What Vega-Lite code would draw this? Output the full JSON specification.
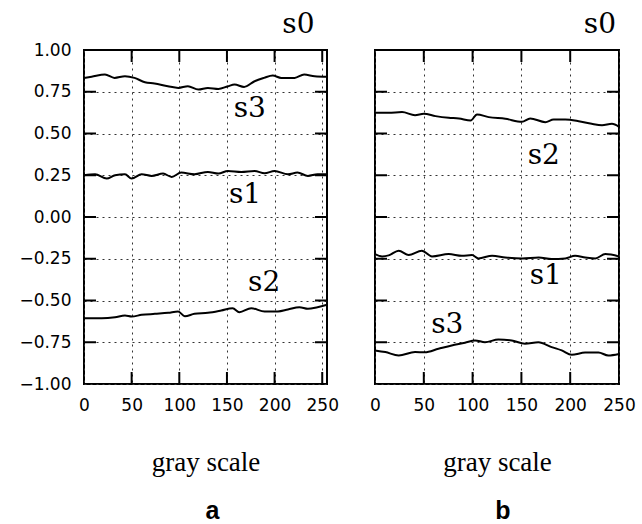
{
  "$schema": "https://vega.github.io/schema/vega-lite/v6.json",
  "background": "white",
  "padding": {"left": 17, "top": 9, "right": 5, "bottom": 5},
  "spacing": 48,
  "bounds": "flush",
  "config": {
    "view": {"stroke": "black", "strokeWidth": 2},
    "axis": {
      "domain": false,
      "grid": true,
      "gridDash": [2, 4],
      "gridColor": "#333",
      "gridWidth": 1,
      "ticks": false,
      "labelFont": "DejaVu Sans",
      "labelFontSize": 17,
      "labelColor": "black",
      "labelFlush": false,
      "labelOverlap": false,
      "titleColor": "black"
    }
  },
  "datasets": {
    "lines": [
      {"panel": "a", "series": "s0", "x": 0, "y": 1},
      {"panel": "a", "series": "s0", "x": 255, "y": 1},
      {"panel": "a", "series": "s3", "x": 0, "y": 0.833},
      {"panel": "a", "series": "s3", "x": 8, "y": 0.84},
      {"panel": "a", "series": "s3", "x": 22, "y": 0.853},
      {"panel": "a", "series": "s3", "x": 32, "y": 0.833},
      {"panel": "a", "series": "s3", "x": 43, "y": 0.843},
      {"panel": "a", "series": "s3", "x": 53, "y": 0.833},
      {"panel": "a", "series": "s3", "x": 64, "y": 0.807},
      {"panel": "a", "series": "s3", "x": 74, "y": 0.8},
      {"panel": "a", "series": "s3", "x": 88, "y": 0.783},
      {"panel": "a", "series": "s3", "x": 99, "y": 0.773},
      {"panel": "a", "series": "s3", "x": 109, "y": 0.783},
      {"panel": "a", "series": "s3", "x": 120, "y": 0.763},
      {"panel": "a", "series": "s3", "x": 130, "y": 0.773},
      {"panel": "a", "series": "s3", "x": 141, "y": 0.767},
      {"panel": "a", "series": "s3", "x": 151, "y": 0.783},
      {"panel": "a", "series": "s3", "x": 158, "y": 0.793},
      {"panel": "a", "series": "s3", "x": 168, "y": 0.779},
      {"panel": "a", "series": "s3", "x": 179, "y": 0.813},
      {"panel": "a", "series": "s3", "x": 189, "y": 0.833},
      {"panel": "a", "series": "s3", "x": 198, "y": 0.847},
      {"panel": "a", "series": "s3", "x": 207, "y": 0.833},
      {"panel": "a", "series": "s3", "x": 221, "y": 0.833},
      {"panel": "a", "series": "s3", "x": 231, "y": 0.853},
      {"panel": "a", "series": "s3", "x": 242, "y": 0.843},
      {"panel": "a", "series": "s3", "x": 255, "y": 0.84},
      {"panel": "a", "series": "s1", "x": 0, "y": 0.25},
      {"panel": "a", "series": "s1", "x": 11.6, "y": 0.256},
      {"panel": "a", "series": "s1", "x": 23.8, "y": 0.23},
      {"panel": "a", "series": "s1", "x": 32.6, "y": 0.25},
      {"panel": "a", "series": "s1", "x": 43, "y": 0.256},
      {"panel": "a", "series": "s1", "x": 50, "y": 0.23},
      {"panel": "a", "series": "s1", "x": 60.5, "y": 0.256},
      {"panel": "a", "series": "s1", "x": 71, "y": 0.246},
      {"panel": "a", "series": "s1", "x": 83, "y": 0.26},
      {"panel": "a", "series": "s1", "x": 92, "y": 0.24},
      {"panel": "a", "series": "s1", "x": 102, "y": 0.266},
      {"panel": "a", "series": "s1", "x": 116, "y": 0.256},
      {"panel": "a", "series": "s1", "x": 130, "y": 0.27},
      {"panel": "a", "series": "s1", "x": 141, "y": 0.26},
      {"panel": "a", "series": "s1", "x": 151, "y": 0.276},
      {"panel": "a", "series": "s1", "x": 165, "y": 0.27},
      {"panel": "a", "series": "s1", "x": 179, "y": 0.276},
      {"panel": "a", "series": "s1", "x": 189.5, "y": 0.262},
      {"panel": "a", "series": "s1", "x": 200, "y": 0.276},
      {"panel": "a", "series": "s1", "x": 214, "y": 0.256},
      {"panel": "a", "series": "s1", "x": 224, "y": 0.266},
      {"panel": "a", "series": "s1", "x": 235, "y": 0.246},
      {"panel": "a", "series": "s1", "x": 245, "y": 0.256},
      {"panel": "a", "series": "s1", "x": 255, "y": 0.256},
      {"panel": "a", "series": "s2", "x": 0, "y": -0.606},
      {"panel": "a", "series": "s2", "x": 18.6, "y": -0.606},
      {"panel": "a", "series": "s2", "x": 32.6, "y": -0.6},
      {"panel": "a", "series": "s2", "x": 43, "y": -0.59},
      {"panel": "a", "series": "s2", "x": 50, "y": -0.596},
      {"panel": "a", "series": "s2", "x": 60.5, "y": -0.586},
      {"panel": "a", "series": "s2", "x": 74.4, "y": -0.58},
      {"panel": "a", "series": "s2", "x": 88.4, "y": -0.574},
      {"panel": "a", "series": "s2", "x": 98.8, "y": -0.566},
      {"panel": "a", "series": "s2", "x": 105.8, "y": -0.594},
      {"panel": "a", "series": "s2", "x": 116, "y": -0.58},
      {"panel": "a", "series": "s2", "x": 130, "y": -0.574},
      {"panel": "a", "series": "s2", "x": 144, "y": -0.56},
      {"panel": "a", "series": "s2", "x": 156, "y": -0.546},
      {"panel": "a", "series": "s2", "x": 163, "y": -0.57},
      {"panel": "a", "series": "s2", "x": 175.5, "y": -0.546},
      {"panel": "a", "series": "s2", "x": 189.5, "y": -0.566},
      {"panel": "a", "series": "s2", "x": 203.5, "y": -0.566},
      {"panel": "a", "series": "s2", "x": 214, "y": -0.554},
      {"panel": "a", "series": "s2", "x": 226, "y": -0.54},
      {"panel": "a", "series": "s2", "x": 235, "y": -0.55},
      {"panel": "a", "series": "s2", "x": 245, "y": -0.54},
      {"panel": "a", "series": "s2", "x": 255, "y": -0.526},
      {"panel": "b", "series": "s0", "x": 0, "y": 1},
      {"panel": "b", "series": "s0", "x": 250, "y": 1},
      {"panel": "b", "series": "s2", "x": 0, "y": 0.624},
      {"panel": "b", "series": "s2", "x": 14, "y": 0.624},
      {"panel": "b", "series": "s2", "x": 27.7, "y": 0.628},
      {"panel": "b", "series": "s2", "x": 41, "y": 0.61},
      {"panel": "b", "series": "s2", "x": 50, "y": 0.618},
      {"panel": "b", "series": "s2", "x": 62, "y": 0.604},
      {"panel": "b", "series": "s2", "x": 75.5, "y": 0.594},
      {"panel": "b", "series": "s2", "x": 86, "y": 0.59},
      {"panel": "b", "series": "s2", "x": 98, "y": 0.578},
      {"panel": "b", "series": "s2", "x": 104.5, "y": 0.614},
      {"panel": "b", "series": "s2", "x": 116.5, "y": 0.598},
      {"panel": "b", "series": "s2", "x": 133.5, "y": 0.588},
      {"panel": "b", "series": "s2", "x": 150.6, "y": 0.57},
      {"panel": "b", "series": "s2", "x": 159, "y": 0.59},
      {"panel": "b", "series": "s2", "x": 174.5, "y": 0.568},
      {"panel": "b", "series": "s2", "x": 183, "y": 0.584},
      {"panel": "b", "series": "s2", "x": 195, "y": 0.584},
      {"panel": "b", "series": "s2", "x": 208.7, "y": 0.574},
      {"panel": "b", "series": "s2", "x": 222, "y": 0.558},
      {"panel": "b", "series": "s2", "x": 232.6, "y": 0.55},
      {"panel": "b", "series": "s2", "x": 242.8, "y": 0.558},
      {"panel": "b", "series": "s2", "x": 250, "y": 0.54},
      {"panel": "b", "series": "s1", "x": 0, "y": -0.222},
      {"panel": "b", "series": "s1", "x": 7.2, "y": -0.236},
      {"panel": "b", "series": "s1", "x": 14, "y": -0.23},
      {"panel": "b", "series": "s1", "x": 24.3, "y": -0.202},
      {"panel": "b", "series": "s1", "x": 34.5, "y": -0.228},
      {"panel": "b", "series": "s1", "x": 48, "y": -0.202},
      {"panel": "b", "series": "s1", "x": 58.4, "y": -0.236},
      {"panel": "b", "series": "s1", "x": 75.5, "y": -0.222},
      {"panel": "b", "series": "s1", "x": 89, "y": -0.232},
      {"panel": "b", "series": "s1", "x": 99.4, "y": -0.228},
      {"panel": "b", "series": "s1", "x": 106, "y": -0.248},
      {"panel": "b", "series": "s1", "x": 120, "y": -0.232},
      {"panel": "b", "series": "s1", "x": 133.5, "y": -0.242},
      {"panel": "b", "series": "s1", "x": 150.6, "y": -0.248},
      {"panel": "b", "series": "s1", "x": 167.7, "y": -0.242},
      {"panel": "b", "series": "s1", "x": 181, "y": -0.252},
      {"panel": "b", "series": "s1", "x": 195, "y": -0.248},
      {"panel": "b", "series": "s1", "x": 205, "y": -0.232},
      {"panel": "b", "series": "s1", "x": 215.5, "y": -0.242},
      {"panel": "b", "series": "s1", "x": 225.7, "y": -0.248},
      {"panel": "b", "series": "s1", "x": 236, "y": -0.222},
      {"panel": "b", "series": "s1", "x": 250, "y": -0.236},
      {"panel": "b", "series": "s3", "x": 0, "y": -0.799},
      {"panel": "b", "series": "s3", "x": 10.6, "y": -0.809},
      {"panel": "b", "series": "s3", "x": 24.3, "y": -0.829},
      {"panel": "b", "series": "s3", "x": 41, "y": -0.809},
      {"panel": "b", "series": "s3", "x": 51, "y": -0.81},
      {"panel": "b", "series": "s3", "x": 65, "y": -0.789},
      {"panel": "b", "series": "s3", "x": 78.6, "y": -0.769},
      {"panel": "b", "series": "s3", "x": 92.2, "y": -0.753},
      {"panel": "b", "series": "s3", "x": 102.5, "y": -0.739},
      {"panel": "b", "series": "s3", "x": 112.7, "y": -0.75},
      {"panel": "b", "series": "s3", "x": 126.4, "y": -0.733},
      {"panel": "b", "series": "s3", "x": 140, "y": -0.739},
      {"panel": "b", "series": "s3", "x": 153.7, "y": -0.759},
      {"panel": "b", "series": "s3", "x": 167.4, "y": -0.75},
      {"panel": "b", "series": "s3", "x": 181, "y": -0.779},
      {"panel": "b", "series": "s3", "x": 191.3, "y": -0.799},
      {"panel": "b", "series": "s3", "x": 201.6, "y": -0.825},
      {"panel": "b", "series": "s3", "x": 215.3, "y": -0.812},
      {"panel": "b", "series": "s3", "x": 229, "y": -0.812},
      {"panel": "b", "series": "s3", "x": 239, "y": -0.829},
      {"panel": "b", "series": "s3", "x": 250, "y": -0.82}
    ],
    "labels": [
      {"panel": "a", "label": "s0", "x": 225, "y": 1.15},
      {"panel": "a", "label": "s3", "x": 174, "y": 0.648},
      {"panel": "a", "label": "s1", "x": 169, "y": 0.134},
      {"panel": "a", "label": "s2", "x": 189, "y": -0.397},
      {"panel": "b", "label": "s0", "x": 230.5, "y": 1.15},
      {"panel": "b", "label": "s2", "x": 173, "y": 0.367},
      {"panel": "b", "label": "s1", "x": 175, "y": -0.355},
      {"panel": "b", "label": "s3", "x": 74, "y": -0.648}
    ],
    "xticks_a": [{"v": 50}, {"v": 100}, {"v": 150}, {"v": 200}, {"v": 250}],
    "xticks_b": [{"v": 50}, {"v": 100}, {"v": 150}, {"v": 200}],
    "yticks": [{"v": -0.75}, {"v": -0.5}, {"v": -0.25}, {"v": 0}, {"v": 0.25}, {"v": 0.5}, {"v": 0.75}]
  },
  "hconcat": [
    {
      "width": 243,
      "height": 334,
      "title": {"text": "a", "orient": "bottom", "font": "Liberation Sans", "fontSize": 25, "fontWeight": "bold", "color": "black", "offset": 24, "dx": 7},
      "layer": [
        {
          "data": {"name": "lines"},
          "transform": [{"filter": "datum.panel === 'a'"}],
          "mark": {"type": "line", "color": "black", "strokeWidth": 2, "interpolate": "monotone"},
          "encoding": {
            "x": {"field": "x", "type": "quantitative", "scale": {"domain": [0, 255], "nice": false, "zero": false},
                  "axis": {"orient": "bottom", "values": [0, 50, 100, 150, 200, 250], "labelPadding": 13, "title": "gray scale", "titleFont": "Liberation Serif", "titleFontSize": 27, "titleFontWeight": "normal", "titlePadding": 36}},
            "y": {"field": "y", "type": "quantitative", "scale": {"domain": [-1, 1], "nice": false, "zero": false},
                  "axis": {"orient": "left", "values": [-1, -0.75, -0.5, -0.25, 0, 0.25, 0.5, 0.75, 1], "format": ".2f", "labelPadding": 13, "title": null}},
            "detail": {"field": "series"}
          }
        },
        {
          "data": {"name": "xticks_a"},
          "mark": {"type": "tick", "orient": "vertical", "color": "black", "thickness": 2, "size": 12, "yOffset": -6, "opacity": 1},
          "encoding": {"x": {"field": "v", "type": "quantitative"}, "y": {"datum": -1, "type": "quantitative"}}
        },
        {
          "data": {"name": "xticks_a"},
          "mark": {"type": "tick", "orient": "vertical", "color": "black", "thickness": 2, "size": 12, "yOffset": 6, "opacity": 1},
          "encoding": {"x": {"field": "v", "type": "quantitative"}, "y": {"datum": 1, "type": "quantitative"}}
        },
        {
          "data": {"name": "yticks"},
          "mark": {"type": "tick", "orient": "horizontal", "color": "black", "thickness": 2, "size": 12, "xOffset": 6, "opacity": 1},
          "encoding": {"y": {"field": "v", "type": "quantitative"}, "x": {"datum": 0, "type": "quantitative"}}
        },
        {
          "data": {"name": "yticks"},
          "mark": {"type": "tick", "orient": "horizontal", "color": "black", "thickness": 2, "size": 12, "xOffset": -6, "opacity": 1},
          "encoding": {"y": {"field": "v", "type": "quantitative"}, "x": {"datum": 255, "type": "quantitative"}}
        },
        {
          "data": {"name": "labels"},
          "transform": [{"filter": "datum.panel === 'a'"}],
          "mark": {"type": "text", "font": "DejaVu Serif", "fontSize": 28, "color": "black", "baseline": "middle", "align": "center"},
          "encoding": {
            "x": {"field": "x", "type": "quantitative"},
            "y": {"field": "y", "type": "quantitative"},
            "text": {"field": "label"}
          }
        }
      ]
    },
    {
      "width": 244,
      "height": 334,
      "title": {"text": "b", "orient": "bottom", "font": "Liberation Sans", "fontSize": 25, "fontWeight": "bold", "color": "black", "offset": 24, "dx": 6},
      "layer": [
        {
          "data": {"name": "lines"},
          "transform": [{"filter": "datum.panel === 'b'"}],
          "mark": {"type": "line", "color": "black", "strokeWidth": 2, "interpolate": "monotone"},
          "encoding": {
            "x": {"field": "x", "type": "quantitative", "scale": {"domain": [0, 250], "nice": false, "zero": false},
                  "axis": {"orient": "bottom", "values": [0, 50, 100, 150, 200, 250], "labelPadding": 13, "title": "gray scale", "titleFont": "Liberation Serif", "titleFontSize": 27, "titleFontWeight": "normal", "titlePadding": 36}},
            "y": {"field": "y", "type": "quantitative", "scale": {"domain": [-1, 1], "nice": false, "zero": false},
                  "axis": {"orient": "left", "values": [-1, -0.75, -0.5, -0.25, 0, 0.25, 0.5, 0.75, 1], "labels": false, "title": null}},
            "detail": {"field": "series"}
          }
        },
        {
          "data": {"name": "xticks_b"},
          "mark": {"type": "tick", "orient": "vertical", "color": "black", "thickness": 2, "size": 12, "yOffset": -6, "opacity": 1},
          "encoding": {"x": {"field": "v", "type": "quantitative"}, "y": {"datum": -1, "type": "quantitative"}}
        },
        {
          "data": {"name": "xticks_b"},
          "mark": {"type": "tick", "orient": "vertical", "color": "black", "thickness": 2, "size": 12, "yOffset": 6, "opacity": 1},
          "encoding": {"x": {"field": "v", "type": "quantitative"}, "y": {"datum": 1, "type": "quantitative"}}
        },
        {
          "data": {"name": "yticks"},
          "mark": {"type": "tick", "orient": "horizontal", "color": "black", "thickness": 2, "size": 12, "xOffset": 6, "opacity": 1},
          "encoding": {"y": {"field": "v", "type": "quantitative"}, "x": {"datum": 0, "type": "quantitative"}}
        },
        {
          "data": {"name": "yticks"},
          "mark": {"type": "tick", "orient": "horizontal", "color": "black", "thickness": 2, "size": 12, "xOffset": -6, "opacity": 1},
          "encoding": {"y": {"field": "v", "type": "quantitative"}, "x": {"datum": 250, "type": "quantitative"}}
        },
        {
          "data": {"name": "labels"},
          "transform": [{"filter": "datum.panel === 'b'"}],
          "mark": {"type": "text", "font": "DejaVu Serif", "fontSize": 28, "color": "black", "baseline": "middle", "align": "center"},
          "encoding": {
            "x": {"field": "x", "type": "quantitative"},
            "y": {"field": "y", "type": "quantitative"},
            "text": {"field": "label"}
          }
        }
      ]
    }
  ]
}
